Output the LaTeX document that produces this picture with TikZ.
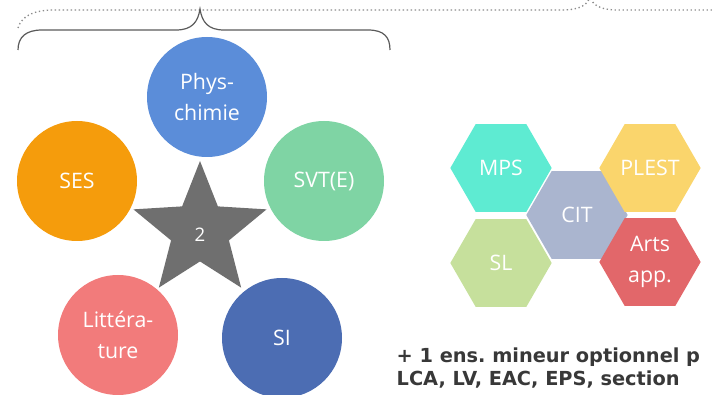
\documentclass[tikz,border=0pt]{standalone}
\usepackage{fontspec}
\setsansfont{Open Sans}
\newfontfamily\notefont{DejaVu Sans}
\usepackage{tikz}
\usetikzlibrary{shapes.geometric}
\frenchspacing

\definecolor{physblue}{HTML}{5B8DD9}
\definecolor{sesorange}{HTML}{F59C0C}
\definecolor{svtgreen}{HTML}{7FD4A4}
\definecolor{littpink}{HTML}{F27B7B}
\definecolor{sidarkblue}{HTML}{4C6DB3}
\definecolor{stargray}{HTML}{6F6F6F}
\definecolor{mpscyan}{HTML}{5EEBD2}
\definecolor{slgreen}{HTML}{C6E09C}
\definecolor{citgray}{HTML}{AAB5CF}
\definecolor{plestyellow}{HTML}{FAD56C}
\definecolor{artsred}{HTML}{E2676A}
\definecolor{bracegray}{HTML}{5A5A5A}

\begin{document}
\begin{tikzpicture}[x=0.75pt, y=-0.75pt]
      \tikzstyle{every node}=[font=\sffamily\fontsize{16}{23}\selectfont, text=white, align=center]
      \tikzstyle{spe}=[circle, minimum size=90pt, inner sep=0pt]
      \tikzstyle{hexa}=[regular polygon, regular polygon sides=6, minimum size=76pt, inner sep=0pt]
      \tikzstyle{note}=[anchor=base west, text=black!78, font=\notefont\bfseries\fontsize{14.5}{19}\selectfont]
      \useasboundingbox (0,0) rectangle (714,395);
      \clip (0,0) rectangle (714,395);
      % braces
      \draw[bracegray!70, dotted, line width=1pt] (18,28) .. controls (22,15) and (35,10) .. (55,10) -- (562,10)
        .. controls (578,10) and (588,6) .. (590,-4) .. controls (592,6) and (602,10) .. (618,10) -- (714,10);
      \draw[bracegray, line width=0.9pt] (18,50) .. controls (18,37) and (26,30) .. (42,30) -- (176,30)
        .. controls (192,30) and (198,22) .. (200,9) .. controls (202,22) and (208,30) .. (224,30) -- (368,30)
        .. controls (384,30) and (390,37) .. (390,50);
      % star of specialities
      \node [star, star points=5, star point ratio=2.3, minimum size=105pt, inner sep=0pt, fill=stargray] (star) at (200, 231) {};
      \node [font=\sffamily\fontsize{14}{16}\selectfont] (two) at (200, 235) {2};
      \node [spe, fill=physblue] (phys) at (207, 97) {Phys-\\chimie};
      \node [spe, fill=sesorange] (ses) at (77, 181) {SES};
      \node [spe, fill=svtgreen] (svt) at (324, 181) {SVT(E)};
      \node [spe, fill=littpink] (litt) at (118, 335) {Littéra-\\ture};
      \node [spe, fill=sidarkblue] (si) at (282, 338) {SI};
      % minor teachings
      \node [hexa, fill=citgray] (cit) at (577, 215) {CIT};
      \node [hexa, fill=mpscyan] (mps) at (501, 168) {MPS};
      \node [hexa, fill=slgreen] (sl) at (501, 263) {SL};
      \node [hexa, fill=plestyellow] (plest) at (650, 168) {PLEST};
      \node [hexa, fill=artsred] (arts) at (650, 262) {Arts\\app.};
      \node [note] (note1) at (392, 362) {+ 1 ens. mineur optionnel p};
      \node [note] (note2) at (392, 385) {LCA, LV, EAC, EPS, section};
    \end{tikzpicture}
\end{document}
